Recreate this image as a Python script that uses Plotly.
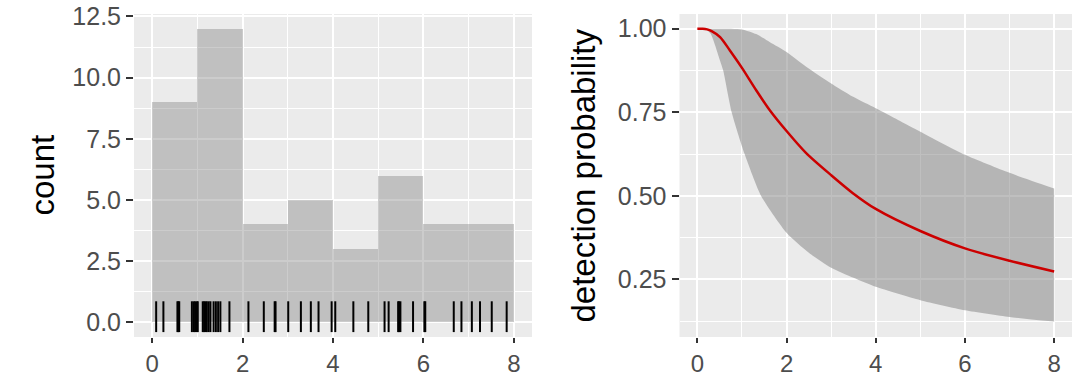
import plotly.graph_objects as go

# ---------------- data ----------------
bin_left = [0, 1, 2, 3, 4, 5, 6, 7]
bin_counts = [9, 12, 4, 5, 3, 6, 4, 4]

rug_x = [0.09, 0.25, 0.56, 0.58, 0.60, 0.88, 0.92, 0.95, 0.99,
         1.01, 1.12, 1.15, 1.18, 1.21, 1.25, 1.29, 1.36, 1.41, 1.46, 1.51, 1.71,
         2.13, 2.47, 2.71, 2.73,
         3.01, 3.29, 3.51, 3.68, 3.97,
         4.05, 4.45, 4.78,
         5.14, 5.23, 5.44, 5.46, 5.49, 5.77,
         6.02, 6.04, 6.67, 6.84,
         7.07, 7.25, 7.51, 7.84]

fit_x = [0.0, 0.12, 0.22, 0.32, 0.51, 0.73, 1.0, 1.32, 1.62, 2.0, 2.44, 3.0, 3.48, 4.0, 5.0, 6.0, 7.0, 8.0]
fit_y = [1.0, 1.0, 0.998, 0.993, 0.975, 0.935, 0.883, 0.816, 0.757, 0.694, 0.628, 0.562, 0.509, 0.461, 0.395, 0.343, 0.306, 0.274]

upper_x = [0.0, 0.5, 1.0, 1.32, 1.62, 2.0, 2.44, 3.0, 3.48, 4.0, 4.5, 5.0, 6.0, 7.0, 8.0]
upper_y = [1.0, 1.0, 0.998, 0.984, 0.96, 0.93, 0.886, 0.836, 0.797, 0.762, 0.727, 0.692, 0.623, 0.569, 0.522]

lower_x = [0.0, 0.2, 0.3, 0.4, 0.5, 0.58, 0.77, 1.06, 1.43, 2.0, 2.5, 3.0, 3.5, 4.0, 5.0, 6.0, 7.0, 8.0]
lower_y = [1.0, 0.998, 0.985, 0.95, 0.908, 0.875, 0.75, 0.625, 0.5, 0.39, 0.33, 0.285, 0.255, 0.228, 0.188, 0.158, 0.138, 0.124]

x_ticks = [0, 2, 4, 6, 8]
count_ticks = [0, 2.5, 5, 7.5, 10, 12.5]
count_labels = ["0.0", "2.5", "5.0", "7.5", "10.0", "12.5"]
prob_ticks = [0.25, 0.5, 0.75, 1.0]
prob_labels = ["0.25", "0.50", "0.75", "1.00"]

# ---------------- style ----------------
RUG_Y = 0.23
W, H = 1072, 378
ML, MR, MT, MB = 134, 0, 14, 41
pw = W - ML - MR
FONT = "Liberation Sans, Arial, sans-serif"

fig = go.Figure()

fig.add_trace(go.Bar(
    x=[b + 0.5 for b in bin_left], y=bin_counts, width=1.0,
    marker=dict(color="rgba(127,127,127,0.4)", line=dict(width=0)),
    xaxis="x", yaxis="y", showlegend=False, hoverinfo="skip"))

fig.add_trace(go.Scatter(
    x=rug_x, y=[RUG_Y] * len(rug_x), mode="markers",
    marker=dict(symbol="line-ns", size=22, line=dict(color="black", width=2)),
    xaxis="x", yaxis="y", showlegend=False, hoverinfo="skip"))

# ribbon: lower edge, then upper edge filled down to it
fig.add_trace(go.Scatter(
    x=lower_x, y=lower_y, mode="lines",
    line=dict(width=0, shape="spline", smoothing=0.6, color="rgba(0,0,0,0)"),
    xaxis="x2", yaxis="y2", showlegend=False, hoverinfo="skip"))
fig.add_trace(go.Scatter(
    x=upper_x, y=upper_y, mode="lines", fill="tonexty",
    fillcolor="rgba(127,127,127,0.5)",
    line=dict(width=0, shape="spline", smoothing=0.6, color="rgba(0,0,0,0)"),
    xaxis="x2", yaxis="y2", showlegend=False, hoverinfo="skip"))

fig.add_trace(go.Scatter(
    x=fit_x, y=fit_y, mode="lines",
    line=dict(color="#CC0000", width=2.5, shape="spline", smoothing=0.8),
    xaxis="x2", yaxis="y2", showlegend=False, hoverinfo="skip"))

axis_common = dict(
    showgrid=True, gridcolor="white", gridwidth=2, zeroline=False, automargin=False,
    showline=False, ticks="outside", tickwidth=2, tickcolor="#333333",
)
ytick = dict(ticklen=7, tickfont=dict(family=FONT, size=25, color="#4D4D4D"))
xtick = dict(ticklen=5, tickfont=dict(family=FONT, size=24, color="#4D4D4D"))

d1 = (532 - ML) / pw
d2 = (679.5 - ML) / pw

fig.update_layout(
    width=W, height=H,
    margin=dict(l=ML, r=MR, t=MT, b=MB, pad=0),
    paper_bgcolor="white", plot_bgcolor="#EBEBEB",
    bargap=0,
    xaxis=dict(domain=[0, d1], range=[-0.4, 8.4], tickvals=x_ticks,
               minor=dict(dtick=1, tick0=0, showgrid=True, gridcolor="white", gridwidth=1, ticks=""),
               anchor="y", **axis_common, **xtick),
    yaxis=dict(domain=[0, 1], range=[-0.6, 12.6], tickvals=count_ticks, ticktext=count_labels,
               minor=dict(dtick=1.25, tick0=0, showgrid=True, gridcolor="white", gridwidth=1, ticks=""),
               anchor="x", **axis_common, **ytick),
    xaxis2=dict(domain=[d2, 1], range=[-0.4, 8.4], tickvals=x_ticks,
                minor=dict(dtick=1, tick0=0, showgrid=True, gridcolor="white", gridwidth=1, ticks=""),
                anchor="y2", **axis_common, **xtick),
    yaxis2=dict(domain=[0, 1], range=[0.078, 1.044], tickvals=prob_ticks, ticktext=prob_labels,
                minor=dict(dtick=0.125, tick0=0, showgrid=True, gridcolor="white", gridwidth=1, ticks=""),
                anchor="x2", **axis_common, **ytick),
    annotations=[
        dict(text="count", textangle=-90, x=(42 - ML) / pw, y=0.5, xref="paper", yref="paper",
             showarrow=False, xanchor="center", yanchor="middle",
             font=dict(family=FONT, size=33, color="black")),
        dict(text="detection probability", textangle=-90, x=(583 - ML) / pw, y=0.5,
             xref="paper", yref="paper", showarrow=False, xanchor="center", yanchor="middle",
             font=dict(family=FONT, size=33, color="black")),
    ],
)

fig.write_html("out.html")
